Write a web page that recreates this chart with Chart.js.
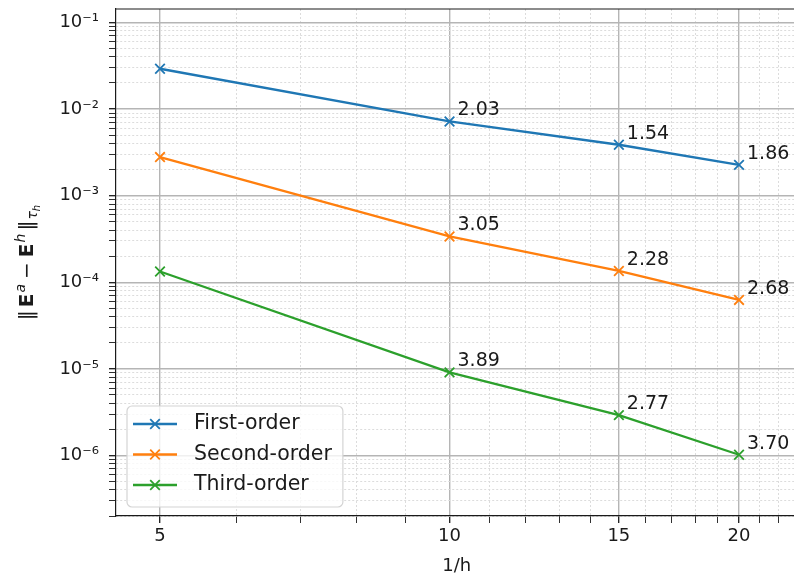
<!DOCTYPE html>
<html>
<head>
<meta charset="utf-8">
<script src="https://cdn.jsdelivr.net/npm/chart.js@4"></script>
<style>
  html, body { margin: 0; padding: 0; background: #fff; overflow: hidden; }
  canvas { display: block; }
</style>
</head>
<body>
<canvas id="chart" width="806" height="577"></canvas>
<script>
// mesh refinement 1/h and error norms
const invH = [5, 10, 15, 20];
const firstOrder  = [0.0292, 0.00719, 0.00387, 0.00227];
const secondOrder = [0.00279, 0.000338, 0.000135, 0.0000625];
const thirdOrder  = [0.000133, 0.0000091, 0.00000292, 0.00000102];

// convergence rates written next to the points
const firstRates  = [null, '2.03', '1.54', '1.86'];
const secondRates = [null, '3.05', '2.28', '2.68'];
const thirdRates  = [null, '3.89', '2.77', '3.70'];

const seriesNames = ['First-order', 'Second-order', 'Third-order'];
const seriesColors = ['#1f77b4', '#ff7f0e', '#2ca02c'];

const xMajorTicks = [5, 10, 15, 20];
const xTickLabels = ['5', '10', '15', '20'];
const yMajorTicks = [1e-6, 1e-5, 1e-4, 1e-3, 1e-2, 1e-1];
const yTickLabels = ['10⁻⁶', '10⁻⁵', '10⁻⁴', '10⁻³', '10⁻²', '10⁻¹'];

const xMin = 4.5, xMax = 23;
const yMin = 2.0e-7, yMax = 0.143;

const allValues = [firstOrder, secondOrder, thirdOrder];
const allRates = [firstRates, secondRates, thirdRates];

Chart.defaults.font.family = '"DejaVu Sans", sans-serif';
Chart.defaults.color = '#1a1a1a';

const textColor = '#1a1a1a';
const majorGrid = '#b5b5b5';
const minorGrid = '#dcdcdc';

function sameValue(a, b) {
  return Math.abs(Math.log10(a) - Math.log10(b)) < 1e-6;
}

// top spine like matplotlib (the right one falls outside the picture)
const frame = {
  id: 'frame',
  afterDraw(chart) {
    const { ctx, chartArea: a } = chart;
    ctx.save();
    ctx.strokeStyle = textColor;
    ctx.lineWidth = 1.2;
    ctx.beginPath();
    ctx.moveTo(a.left, a.top);
    ctx.lineTo(a.right, a.top);
    ctx.stroke();
    ctx.restore();
  }
};

const rateLabels = {
  id: 'rateLabels',
  afterDatasetsDraw(chart) {
    const { ctx } = chart;
    const x = chart.scales.x, y = chart.scales.y;
    ctx.save();
    ctx.font = '19px "DejaVu Sans"';
    ctx.fillStyle = textColor;
    ctx.textAlign = 'left';
    ctx.textBaseline = 'alphabetic';
    allRates.forEach((rates, s) => {
      rates.forEach((r, i) => {
        if (!r) return;
        ctx.fillText(r, x.getPixelForValue(invH[i]) + 8, y.getPixelForValue(allValues[s][i]) - 6);
      });
    });
    ctx.restore();
  }
};

// || E^a - E^h ||_{tau_h}
const yAxisLabel = {
  id: 'yAxisLabel',
  afterDraw(chart) {
    const { ctx, chartArea: a } = chart;
    const f = 20;
    const parts = [
      { t: '‖', font: `${f}px "DejaVu Sans"`, dy: 0 },
      { t: 'E', font: `bold ${f}px "DejaVu Sans"`, dy: 0, pre: 3 },
      { t: 'a', font: `italic ${Math.round(f * 0.7)}px "DejaVu Sans"`, dy: -0.42 * f, pre: 1 },
      { t: '−', font: `${f}px "DejaVu Sans"`, dy: 0, pre: 5, post: 5 },
      { t: 'E', font: `bold ${f}px "DejaVu Sans"`, dy: 0 },
      { t: 'h', font: `italic ${Math.round(f * 0.7)}px "DejaVu Sans"`, dy: -0.42 * f, pre: 1 },
      { t: '‖', font: `${f}px "DejaVu Sans"`, dy: 0, pre: 3 },
      { t: 'τ', font: `italic ${Math.round(f * 0.7)}px "DejaVu Sans"`, dy: 0.2 * f, pre: 1 },
      { t: 'h', font: `italic ${Math.round(f * 0.5)}px "DejaVu Sans"`, dy: 0.34 * f }
    ];
    ctx.save();
    let total = 0;
    parts.forEach(p => {
      ctx.font = p.font;
      p.w = ctx.measureText(p.t).width;
      total += (p.pre || 0) + p.w + (p.post || 0);
    });
    ctx.translate(33, (a.top + a.bottom) / 2);
    ctx.rotate(-Math.PI / 2);
    ctx.fillStyle = textColor;
    ctx.textBaseline = 'alphabetic';
    ctx.textAlign = 'left';
    let u = -total / 2;
    parts.forEach(p => {
      u += p.pre || 0;
      ctx.font = p.font;
      ctx.fillText(p.t, u, p.dy);
      u += p.w + (p.post || 0);
    });
    ctx.restore();
  }
};

const legendBox = {
  id: 'legendBox',
  afterDraw(chart) {
    const { ctx, chartArea: a } = chart;
    const sets = chart.data.datasets;
    ctx.save();
    ctx.font = '20.5px "DejaVu Sans"';
    const textW = Math.max(...sets.map(d => ctx.measureText(d.label).width));
    const rowH = 30.5;
    const w = 67 + textW + 11;
    const h = 101;
    const x0 = a.left + 11;
    const y0 = a.bottom - 9 - h;
    ctx.fillStyle = 'rgba(255,255,255,0.8)';
    ctx.strokeStyle = '#d4d4d4';
    ctx.lineWidth = 1.2;
    ctx.beginPath();
    ctx.roundRect(x0, y0, w, h, 5);
    ctx.fill();
    ctx.stroke();
    sets.forEach((d, i) => {
      const cy = y0 + 18 + i * rowH;
      ctx.strokeStyle = d.borderColor;
      ctx.lineWidth = 2.3;
      ctx.beginPath();
      ctx.moveTo(x0 + 6, cy);
      ctx.lineTo(x0 + 50, cy);
      ctx.stroke();
      ctx.lineWidth = 1.8;
      ctx.beginPath();
      ctx.moveTo(x0 + 28 - 4.8, cy - 4.8);
      ctx.lineTo(x0 + 28 + 4.8, cy + 4.8);
      ctx.moveTo(x0 + 28 - 4.8, cy + 4.8);
      ctx.lineTo(x0 + 28 + 4.8, cy - 4.8);
      ctx.stroke();
      ctx.fillStyle = textColor;
      ctx.textBaseline = 'middle';
      ctx.fillText(d.label, x0 + 67, cy);
    });
    ctx.restore();
  }
};

const gridColor = c => (c.tick && c.tick.major ? majorGrid : minorGrid);
const gridWidth = c => (c.tick && c.tick.major ? 1.4 : 1);
const gridDash = c => (c.tick && !c.tick.major ? [2, 2] : []);
const tickWidth = c => (c.tick && c.tick.major ? 1.3 : 0.9);

new Chart(document.getElementById('chart'), {
  type: 'line',
  data: {
    datasets: allValues.map((vals, s) => ({
      label: seriesNames[s],
      data: invH.map((x, i) => ({ x, y: vals[i] })),
      borderColor: seriesColors[s],
      backgroundColor: seriesColors[s],
      borderWidth: 2.3,
      pointStyle: 'crossRot',
      pointRadius: 6.8,
      pointBorderWidth: 1.8,
      pointHoverRadius: 6.8,
      tension: 0,
      fill: false
    }))
  },
  options: {
    responsive: false,
    animation: false,
    events: [],
    layout: { padding: { left: 0, top: 9, right: 1, bottom: 0 } },
    plugins: {
      legend: { display: false },
      tooltip: { enabled: false }
    },
    scales: {
      x: {
        type: 'logarithmic',
        min: xMin,
        max: xMax,
        afterBuildTicks: scale => {
          const ticks = [];
          for (let v = Math.ceil(xMin); v <= xMax; v++) {
            ticks.push({ value: v, major: xMajorTicks.includes(v) });
          }
          scale.ticks = ticks;
        },
        afterFit: scale => {
          scale.height = 61;
          scale.paddingLeft = 0;
          scale.paddingRight = 0;
        },
        ticks: {
          autoSkip: false,
          maxRotation: 0,
          padding: 3,
          color: textColor,
          font: { size: 18 },
          callback: value => {
            const i = xMajorTicks.indexOf(value);
            return i >= 0 ? xTickLabels[i] : '';
          }
        },
        grid: {
          color: gridColor,
          lineWidth: gridWidth,
          tickLength: 7,
          tickColor: textColor,
          tickWidth: tickWidth
        },
        border: { color: textColor, width: 1.2, dash: gridDash },
        title: {
          display: true,
          text: '1/h',
          color: textColor,
          font: { size: 18 },
          padding: { top: 0, bottom: 0 }
        }
      },
      y: {
        type: 'logarithmic',
        min: yMin,
        max: yMax,
        afterBuildTicks: scale => {
          const ticks = [];
          for (let e = -7; e <= -1; e++) {
            for (let d = 1; d <= 9; d++) {
              const v = d * Math.pow(10, e);
              if (v >= yMin && v <= yMax) ticks.push({ value: v, major: d === 1 });
            }
          }
          scale.ticks = ticks;
        },
        afterFit: scale => {
          scale.width = 116;
          scale.paddingTop = 0;
          scale.paddingBottom = 0;
        },
        ticks: {
          autoSkip: false,
          padding: 10,
          color: textColor,
          font: { size: 18 },
          callback: value => {
            const i = yMajorTicks.findIndex(t => sameValue(t, value));
            return i >= 0 ? yTickLabels[i] : '';
          }
        },
        grid: {
          color: gridColor,
          lineWidth: gridWidth,
          tickLength: 7,
          tickColor: textColor,
          tickWidth: tickWidth
        },
        border: { color: textColor, width: 1.2, dash: gridDash }
      }
    }
  },
  plugins: [frame, rateLabels, yAxisLabel, legendBox]
});
</script>
</body>
</html>
